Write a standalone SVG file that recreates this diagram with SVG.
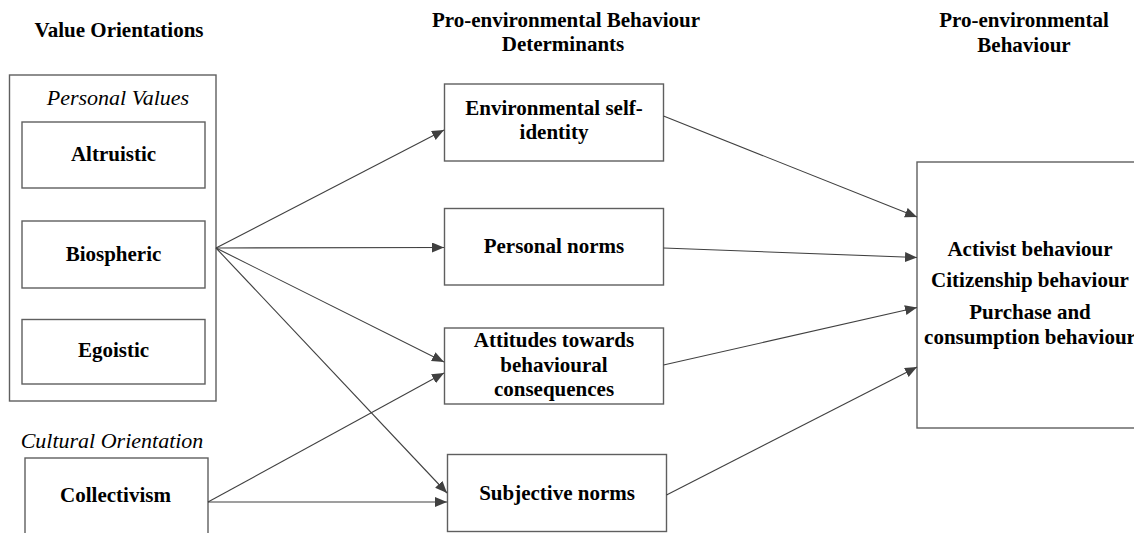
<svg xmlns="http://www.w3.org/2000/svg" width="1134" height="533" viewBox="0 0 1134 533">
  <style>
    .box { fill: #ffffff; stroke: #5f5f5f; stroke-width: 1.4; }
    .lbl { font-family: "Liberation Serif", "Times New Roman", serif; font-weight: bold; font-size: 21px; fill: #000; text-anchor: middle; }
    .ital { font-family: "Liberation Serif", "Times New Roman", serif; font-style: italic; font-size: 22px; fill: #000; text-anchor: middle; }
    .edge { stroke: #404040; stroke-width: 1.1; fill: none; marker-end: url(#arrow); }
  </style>
  <defs>
    <marker id="arrow" markerUnits="userSpaceOnUse" markerWidth="13" markerHeight="11" refX="12" refY="5" orient="auto">
      <path d="M0,0 L12,5 L0,10 Z" fill="#404040"/>
    </marker>
  </defs>
  <rect width="1134" height="533" fill="#ffffff"/>

  <!-- column headings -->
  <g id="headings">
    <text class="lbl" x="119" y="37">Value Orientations</text>
    <text class="lbl" x="566" y="27">Pro-environmental Behaviour</text>
    <text class="lbl" x="563" y="51">Determinants</text>
    <text class="lbl" x="1024" y="27">Pro-environmental</text>
    <text class="lbl" x="1024" y="52">Behaviour</text>
  </g>

  <!-- personal values group -->
  <g id="personal-values">
    <rect class="box" x="9.5" y="75" width="206.5" height="326"/>
    <text class="ital" x="118" y="105">Personal Values</text>
  </g>
  <g id="altruistic">
    <rect class="box" x="22" y="122" width="183" height="66"/>
    <text class="lbl" x="113.5" y="161">Altruistic</text>
  </g>
  <g id="biospheric">
    <rect class="box" x="22" y="221" width="183" height="67"/>
    <text class="lbl" x="113.5" y="261">Biospheric</text>
  </g>
  <g id="egoistic">
    <rect class="box" x="22" y="319.5" width="183" height="64.5"/>
    <text class="lbl" x="113.5" y="357">Egoistic</text>
  </g>

  <!-- cultural orientation -->
  <g id="cultural-orientation">
    <text class="ital" x="112" y="448">Cultural Orientation</text>
  </g>
  <g id="collectivism">
    <rect class="box" x="25" y="458" width="183" height="90"/>
    <text class="lbl" x="115.5" y="502">Collectivism</text>
  </g>

  <!-- determinants -->
  <g id="self-identity">
    <rect class="box" x="444.5" y="84" width="219" height="77"/>
    <text class="lbl" x="554" y="115">Environmental self-</text>
    <text class="lbl" x="554" y="139">identity</text>
  </g>
  <g id="personal-norms">
    <rect class="box" x="444.5" y="208.5" width="219" height="76.5"/>
    <text class="lbl" x="554" y="253">Personal norms</text>
  </g>
  <g id="attitudes">
    <rect class="box" x="444.5" y="328" width="219" height="76"/>
    <text class="lbl" x="554" y="347">Attitudes towards</text>
    <text class="lbl" x="554" y="372">behavioural</text>
    <text class="lbl" x="554" y="396">consequences</text>
  </g>
  <g id="subjective-norms">
    <rect class="box" x="447.5" y="454.5" width="219" height="77"/>
    <text class="lbl" x="557" y="500">Subjective norms</text>
  </g>

  <!-- outcome -->
  <g id="behaviour">
    <rect class="box" x="917" y="162" width="240" height="266"/>
    <text class="lbl" x="1030" y="256">Activist behaviour</text>
    <text class="lbl" x="1030" y="287">Citizenship behaviour</text>
    <text class="lbl" x="1030" y="319">Purchase and</text>
    <text class="lbl" x="1030" y="344">consumption behaviour</text>
  </g>

  <!-- connectors -->
  <g id="connectors">
    <line class="edge" x1="216" y1="248" x2="444" y2="130"/>
    <line class="edge" x1="216" y1="248" x2="444" y2="247.5"/>
    <line class="edge" x1="216" y1="248" x2="444" y2="362"/>
    <line class="edge" x1="216" y1="248" x2="447" y2="493"/>
    <line class="edge" x1="208" y1="502" x2="444" y2="373"/>
    <line class="edge" x1="208" y1="502" x2="447" y2="502"/>
    <line class="edge" x1="663.5" y1="116" x2="917" y2="217"/>
    <line class="edge" x1="663.5" y1="248" x2="917" y2="257.5"/>
    <line class="edge" x1="663.5" y1="365" x2="917" y2="307.5"/>
    <line class="edge" x1="666.5" y1="495" x2="917" y2="367"/>
  </g>
</svg>
